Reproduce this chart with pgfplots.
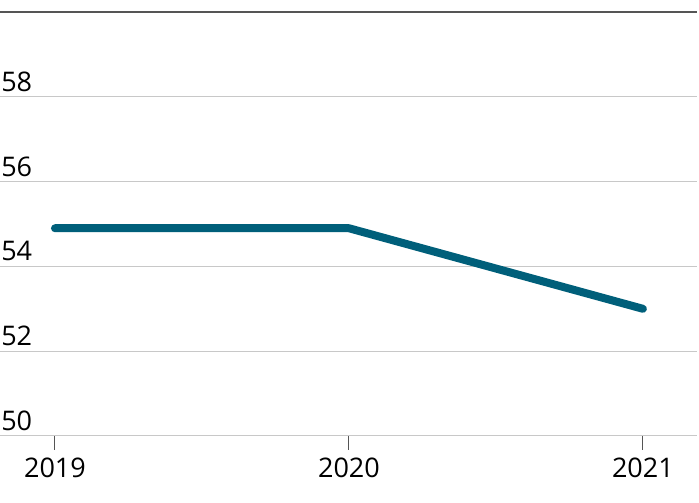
\documentclass[border=0pt]{standalone}
\usepackage{fontspec}
\setmainfont{Open Sans}
\usepackage{pgfplots}
\pgfplotsset{compat=1.18}
\definecolor{linecol}{RGB}{0,95,122}
\definecolor{gridcol}{RGB}{200,200,200}
\definecolor{topcol}{RGB}{85,85,85}
\begin{document}
\begin{tikzpicture}
\useasboundingbox (0,0) rectangle (699pt,503pt);
\begin{axis}[
    at={(0pt,67pt)}, anchor=south west,
    scale only axis,
    width=697pt, height=424pt,
    xmin=2018.813, xmax=2021.184,
    ymin=50, ymax=60,
    axis line style={draw=none},
    xtick={2019,2020,2021},
    ytick={50,52,54,56,58},
    xtick pos=bottom,
    tick align=outside,
    x tick style={draw=topcol, line width=1pt},
    major tick length=14pt,
    y tick style={draw=none},
    ymajorgrids,
    grid style={draw=gridcol, line width=1pt},
    extra y ticks={60},
    extra y tick labels={},
    extra y tick style={grid style={draw=topcol, line width=1.5pt}},
    /pgf/number format/assume math mode=true,
    xticklabel style={/pgf/number format/1000 sep={}, font=\fontsize{27}{30}\selectfont, inner sep=0pt, anchor=north, yshift=-8pt},
    yticklabel style={font=\fontsize{27}{30}\selectfont, inner sep=0pt, anchor=south west, xshift=15pt, yshift=5pt},
    clip=false,
]
\addplot[color=linecol, line width=8pt, line cap=round, line join=round] coordinates {(2019,54.9) (2020,54.9) (2021,53.0)};
\end{axis}
\end{tikzpicture}
\end{document}
